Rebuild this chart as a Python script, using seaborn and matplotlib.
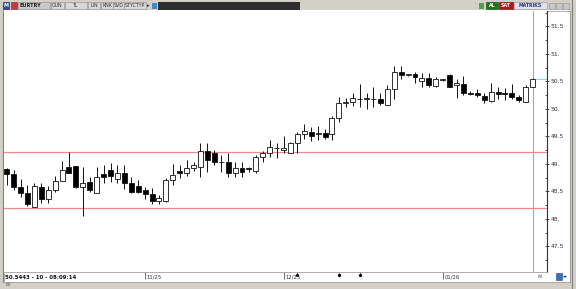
import numpy as np
import pandas as pd
import seaborn as sns
import matplotlib
matplotlib.use("Agg")
import matplotlib.pyplot as plt
import matplotlib.transforms as mtransforms
from matplotlib.patches import Rectangle
from matplotlib.ticker import MultipleLocator, FixedLocator, FixedFormatter

# ---------------- data ----------------
opens = [48.91, 48.82, 48.58, 48.47, 48.22, 48.58, 48.36, 48.53, 48.69, 48.95,
         48.96, 48.58, 48.67, 48.47, 48.82, 48.89, 48.73, 48.84, 48.65, 48.60,
         48.53, 48.45, 48.33, 48.33, 48.71, 48.87, 48.84, 48.93, 48.95, 49.24,
         49.20, 49.04, 49.04, 48.84, 48.93, 48.93, 48.87, 49.13, 49.20, 49.29,
         49.25, 49.20, 49.38, 49.55, 49.58, 49.55, 49.56, 49.55, 49.84, 50.11,
         50.13, 50.18, 50.18, 50.18, 50.18, 50.07, 50.36, 50.67, 50.62, 50.64,
         50.51, 50.56, 50.42, 50.53, 50.62, 50.44, 50.45, 50.29, 50.29, 50.24,
         50.15, 50.31, 50.29, 50.29, 50.22, 50.13, 50.40]
highs = [48.93, 48.89, 48.73, 48.62, 48.65, 48.65, 48.60, 48.78, 49.05, 49.22,
         48.96, 48.95, 48.76, 48.95, 48.98, 49.02, 48.98, 48.98, 48.76, 48.71,
         48.58, 48.56, 48.44, 48.75, 49.00, 48.98, 49.07, 49.04, 49.38, 49.38,
         49.25, 49.16, 49.20, 49.04, 49.04, 48.95, 49.16, 49.24, 49.44, 49.38,
         49.51, 49.40, 49.58, 49.73, 49.67, 49.69, 49.64, 49.87, 50.22, 50.20,
         50.29, 50.45, 50.29, 50.40, 50.29, 50.44, 50.78, 50.78, 50.64, 50.67,
         50.65, 50.65, 50.58, 50.55, 50.64, 50.55, 50.60, 50.33, 50.36, 50.29,
         50.47, 50.40, 50.38, 50.45, 50.25, 50.44, 50.56]
lows = [48.62, 48.53, 48.40, 48.24, 48.21, 48.29, 48.29, 48.49, 48.69, 48.84,
        48.56, 48.05, 48.49, 48.47, 48.65, 48.67, 48.65, 48.55, 48.47, 48.47,
        48.36, 48.27, 48.27, 48.31, 48.62, 48.75, 48.78, 48.87, 48.76, 48.85,
        48.98, 48.85, 48.76, 48.76, 48.76, 48.85, 48.84, 49.04, 49.13, 49.11,
        49.20, 49.20, 49.20, 49.45, 49.42, 49.44, 49.45, 49.44, 49.76, 50.04,
        50.05, 50.04, 50.00, 50.04, 50.07, 50.07, 50.18, 50.55, 50.60, 50.47,
        50.40, 50.40, 50.40, 50.51, 50.40, 50.20, 50.25, 50.25, 50.22, 50.11,
        50.13, 50.18, 50.16, 50.18, 50.13, 50.13, 50.40]
closes = [48.82, 48.58, 48.47, 48.27, 48.60, 48.36, 48.53, 48.69, 48.89, 48.84,
          48.58, 48.65, 48.53, 48.76, 48.76, 48.78, 48.84, 48.65, 48.49, 48.49,
          48.45, 48.33, 48.38, 48.71, 48.80, 48.84, 48.93, 48.98, 49.24, 49.07,
          49.04, 49.03, 48.84, 48.93, 48.85, 48.91, 49.13, 49.20, 49.31, 49.29,
          49.29, 49.38, 49.55, 49.60, 49.51, 49.56, 49.49, 49.84, 50.11, 50.12,
          50.20, 50.18, 50.19, 50.18, 50.11, 50.36, 50.67, 50.62, 50.62, 50.58,
          50.56, 50.44, 50.55, 50.53, 50.40, 50.47, 50.29, 50.28, 50.25, 50.16,
          50.31, 50.27, 50.28, 50.22, 50.16, 50.40, 50.54]

date_tick_pos = [20, 40, 63]
date_tick_labels = ["11/25", "12/25", "01/26"]
price_ticks = [47.5, 48.0, 48.5, 49.0, 49.5, 50.0, 50.5, 51.0, 51.5]
price_tick_labels = ["47.5", "48.", "48.5", "49.", "49.5", "50.", "50.5", "51.", "51.5"]
level_lines = [49.22, 48.20]
last_price = 50.5443
event_marks = [42, 48, 51]
symbol = "EURTRY"
toolbar_labels = ["GUN", "TL", "LIN", "KNK", "SVD", "STYCTYP"]
status_text = "50.5443 - 10 - 08:09:14"

# ---------------- style ----------------
sns.set_theme(style="white")
plt.rcParams['font.family'] = ['DejaVu Sans']

W, H = 576, 289
GRAY = '#d4d0c8'
fig = plt.figure(figsize=(W / 100, H / 100), dpi=100, facecolor=GRAY)


def fx(x):
    return x / W


def fy(y):
    return 1 - y / H


def frect(x0, y0, x1, y1, z=1, **kw):
    fig.patches.append(Rectangle((fx(x0), fy(y1)), (x1 - x0) / W, (y1 - y0) / H,
                                 transform=fig.transFigure, zorder=z, **kw))


def fline(x0, y0, x1, y1, **kw):
    fig.add_artist(plt.Line2D([fx(x0), fx(x1)], [fy(y0), fy(y1)],
                              transform=fig.transFigure, **kw))


def ftext(x, y, s, **kw):
    fig.text(fx(x), fy(y), s, **kw)


# window frame (behind the chart)
frect(3, 10, 570, 282, z=-5, facecolor='white', edgecolor='none')
fline(3, 10, 3, 282, color='#808080', lw=0.8, zorder=-1)
fline(570, 10, 570, 282, color='#a0a0a0', lw=0.8, zorder=-1)
fline(572, 0, 572, 289, color='#808080', lw=0.8, zorder=-1)
fline(3, 10.5, 570, 10.5, color='#a0a0a0', lw=0.6, zorder=-1)
fline(3, 281.5, 570, 281.5, color='#a0a0a0', lw=0.6, zorder=-1)

# ---------------- main chart ----------------
ax = fig.add_axes([fx(4), fy(272), (546.7 - 4) / W, (272 - 11) / H])
ax.set_zorder(5)
ax.set_facecolor('white')

df = pd.DataFrame({"open": opens, "high": highs, "low": lows, "close": closes})
df["idx"] = np.arange(len(df))
df["up"] = df["close"] >= df["open"]
df["bottom"] = df[["open", "close"]].min(axis=1)
df["height"] = (df["close"] - df["open"]).abs().clip(lower=0.006)

last_i = df["idx"].iloc[-1]
ax.axvline(last_i, color='#a8a8a8', lw=0.8, zorder=1)
for lv in level_lines:
    ax.axhline(lv, color='#f08a8a', lw=0.9, zorder=1)

ax.vlines(df["idx"], df["low"], df["high"], color='#111111', lw=0.7, zorder=2)
ax.bar(df["idx"], df["height"], bottom=df["bottom"], width=0.72,
       color=np.where(df["up"], 'white', 'black'), edgecolor='#111111',
       linewidth=0.6, zorder=3)
ax.hlines(last_price, last_i + 0.36, 80, color='#7fdede', lw=0.8, zorder=2)

ax.set_xlim(-0.39, 78.03)
ax.set_ylim(47.036, 51.78)

for s in ['left', 'top']:
    ax.spines[s].set_visible(False)
ax.spines['right'].set_color('#333333')
ax.spines['right'].set_linewidth(0.8)
ax.spines['bottom'].set_color('#a0a0a0')
ax.spines['bottom'].set_linewidth(0.6)

ax.yaxis.tick_right()
ax.yaxis.set_major_locator(FixedLocator(price_ticks))
ax.yaxis.set_major_formatter(FixedFormatter(price_tick_labels))
ax.yaxis.set_minor_locator(MultipleLocator(0.25))
ax.tick_params(axis='y', which='major', direction='inout', length=3.2, width=0.6,
               color='#333333', labelsize=4.3, labelcolor='#333333', pad=1.2,
               right=True, left=False)
ax.tick_params(axis='y', which='minor', direction='in', length=1.6, width=0.6,
               color='#333333', right=True, left=False)

ax.set_xticks(date_tick_pos)
ax.set_xticklabels([])
ax.tick_params(axis='x', which='major', direction='out', length=5, width=0.6,
               color='#555555', bottom=True)
trans = mtransforms.blended_transform_factory(ax.transData, ax.transAxes)
for p, lab in zip(date_tick_pos, date_tick_labels):
    ax.text(p + 0.25, -0.02, lab, transform=trans, ha='left', va='center',
            fontsize=3.8, color='#333333', clip_on=False)
for p in event_marks:
    ax.plot([p, p], [-0.004, -0.016], transform=trans, color='black', lw=0.6,
            clip_on=False)
    ax.plot([p], [-0.01], transform=trans, marker='o', ms=1.3, color='black',
            clip_on=False)
ax.grid(False)

# status strip
ftext(5, 277.3, status_text, fontsize=3.9, fontweight='bold', color='#111111',
      va='center', ha='left')
fline(4, 272.5, 4, 281, color='#909090', lw=0.5)

# bottom bar icons
ftext(5, 285, "ılıl", fontsize=3.5, color='#555555', va='center')
ftext(537, 276.5, "ılıl", fontsize=3.5, color='#555555', va='center')
frect(556, 273, 562, 280, facecolor='#3a6fc0', edgecolor='#204080', lw=0.4)
ftext(563, 276.5, "◂▸", fontsize=3.6, color='#1a3a80', va='center')

# ---------------- toolbar ----------------
frect(3, 2, 9, 9, facecolor='#2a4aa0', edgecolor='#101840', lw=0.4)
ftext(6, 5.6, "M", fontsize=3.6, color='white', ha='center', va='center', fontweight='bold')
frect(11, 2, 17, 9, facecolor='#c83a3a', edgecolor='#6a2a50', lw=0.4)
frect(18, 2, 50, 9, facecolor='#c8c8c8', edgecolor='#8a8a8a', lw=0.4)
ftext(19.5, 5.7, symbol, fontsize=3.6, color='#222222', va='center', fontweight='bold')
btn_x = [(51, 64), (65, 87), (88, 100), (101, 113), (113, 124), (124, 146)]
for (x0, x1), lab in zip(btn_x, toolbar_labels):
    frect(x0, 2, x1, 9, facecolor='#d8d8d8', edgecolor='#8a8a8a', lw=0.4)
    ftext((x0 + x1) / 2, 5.7, lab, fontsize=3.4, color='#333333', ha='center', va='center')
ftext(147, 5.7, "▸", fontsize=3.6, color='#222222', va='center')
frect(152, 2.5, 157, 8.5, facecolor='#3a8ad0', edgecolor='none')
frect(158, 1.5, 300, 9.5, facecolor='#2e2e2e', edgecolor='none')

ftext(474, 5.7, "ꜝ", fontsize=4, color='#d08020', va='center')
frect(479, 2.5, 484, 8.5, facecolor='#50a050', edgecolor='none')
frect(486, 2, 498, 9, facecolor='#1a7a1a', edgecolor='#0a4a0a', lw=0.4)
ftext(492, 5.7, "AL", fontsize=3.4, color='white', ha='center', va='center', fontweight='bold')
frect(499, 2, 513, 9, facecolor='#b01818', edgecolor='#600a0a', lw=0.4)
ftext(506, 5.7, "SAT", fontsize=3.4, color='white', ha='center', va='center', fontweight='bold')
frect(514, 2, 547, 9, facecolor='#e0e0e8', edgecolor='#9090a0', lw=0.4)
ftext(530.5, 5.7, "MATRIKS", fontsize=3.4, color='#2a3a8a', ha='center', va='center', fontweight='bold')
for x0 in (549, 556, 563):
    frect(x0, 2.5, x0 + 6, 8.5, facecolor='#c8c8c8', edgecolor='#909090', lw=0.4)

fig.savefig("out.png", dpi=100, facecolor=fig.get_facecolor())
